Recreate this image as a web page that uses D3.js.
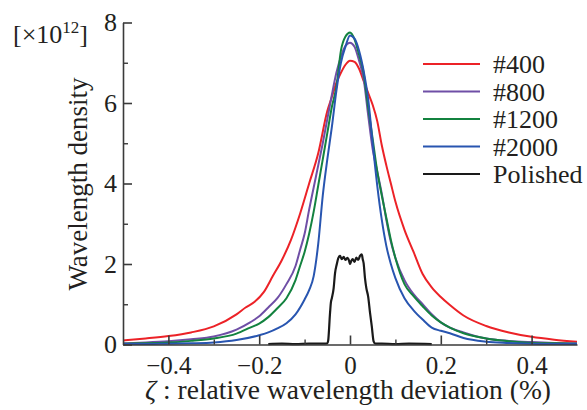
<!DOCTYPE html>
<html>
<head>
<meta charset="utf-8">
<script src="https://cdn.jsdelivr.net/npm/d3@7"></script>
<style>
  html, body { margin: 0; padding: 0; background: #fff; }
  svg { display: block; }
</style>
</head>
<body>
<svg id="chart" width="587" height="410"></svg>
<script>
// ---------------- data ----------------
const xTicks = [-0.4, -0.2, 0, 0.2, 0.4];
const xMinorTicks = [-0.3, -0.1, 0.1, 0.3];
const yTicks = [0, 2, 4, 6, 8];
const yMinorTicks = [1, 3, 5, 7];
const seriesNames = ["#400", "#800", "#1200", "#2000", "Polished"];
const seriesColors = ["#ec2227", "#6f4fa6", "#13823f", "#2855b0", "#1a1a1a"];

const x400 = [-0.5,-0.45,-0.4,-0.35,-0.3,-0.25,-0.23,-0.21,-0.19,-0.17,-0.15,-0.13,-0.11,-0.09,-0.07,-0.05,-0.04,-0.03,-0.02,-0.01,0,0.01,0.02,0.03,0.04,0.05,0.06,0.07,0.08,0.09,0.1,0.12,0.14,0.16,0.18,0.2,0.22,0.25,0.3,0.35,0.4,0.45,0.5];
const y400 = [0.1,0.15,0.21,0.3,0.45,0.75,0.92,1.06,1.3,1.7,2.1,2.6,3.25,4.0,4.75,5.8,6.15,6.5,6.75,6.95,7.05,7.02,6.85,6.55,6.25,5.95,5.55,4.95,4.45,4.0,3.55,2.85,2.3,1.75,1.42,1.18,0.98,0.72,0.46,0.3,0.19,0.12,0.07];

const x800 = [-0.5,-0.45,-0.4,-0.35,-0.3,-0.25,-0.22,-0.2,-0.18,-0.16,-0.14,-0.12,-0.11,-0.1,-0.09,-0.08,-0.07,-0.06,-0.05,-0.04,-0.03,-0.02,-0.01,0,0.01,0.02,0.03,0.04,0.05,0.06,0.07,0.08,0.09,0.1,0.12,0.14,0.16,0.18,0.2,0.22,0.25,0.3,0.35,0.4,0.45,0.5];
const y800 = [0.03,0.05,0.08,0.13,0.2,0.37,0.55,0.7,0.92,1.15,1.5,1.95,2.35,2.75,3.35,3.9,4.45,5.0,5.6,6.2,6.75,7.15,7.42,7.5,7.4,7.05,6.6,5.7,4.85,4.3,3.75,3.1,2.55,2.15,1.6,1.25,1.0,0.75,0.55,0.42,0.3,0.15,0.09,0.06,0.04,0.03];

const x1200 = [-0.5,-0.45,-0.4,-0.35,-0.3,-0.25,-0.22,-0.2,-0.18,-0.16,-0.14,-0.12,-0.11,-0.1,-0.09,-0.08,-0.07,-0.06,-0.05,-0.04,-0.03,-0.02,-0.01,0,0.01,0.02,0.03,0.04,0.05,0.06,0.07,0.08,0.09,0.1,0.12,0.14,0.16,0.18,0.2,0.22,0.25,0.3,0.35,0.4,0.45,0.5];
const y1200 = [0.02,0.03,0.05,0.09,0.15,0.27,0.42,0.52,0.68,0.9,1.15,1.6,1.95,2.3,2.75,3.3,3.95,4.6,5.25,5.9,6.4,7.3,7.65,7.75,7.58,7.2,6.75,5.9,5.1,4.3,3.7,3.15,2.6,2.15,1.5,1.2,0.95,0.72,0.55,0.42,0.28,0.15,0.08,0.04,0.03,0.02];

const x2000 = [-0.5,-0.45,-0.4,-0.35,-0.3,-0.25,-0.2,-0.18,-0.16,-0.14,-0.12,-0.1,-0.09,-0.08,-0.07,-0.06,-0.05,-0.04,-0.03,-0.02,-0.01,0,0.01,0.02,0.03,0.04,0.05,0.06,0.07,0.08,0.09,0.1,0.12,0.14,0.16,0.18,0.2,0.22,0.25,0.3,0.35,0.4,0.45,0.5];
const y2000 = [0.01,0.01,0.02,0.03,0.05,0.11,0.23,0.3,0.4,0.53,0.75,1.12,1.35,1.7,2.5,3.7,4.6,5.4,6.3,7.0,7.4,7.68,7.6,7.3,6.8,6.1,5.0,3.95,3.1,2.45,2.0,1.65,1.15,0.85,0.62,0.42,0.34,0.28,0.16,0.07,0.04,0.02,0.01,0.01];

const xPol = [-0.18,-0.15,-0.12,-0.09,-0.06,-0.05,-0.048,-0.044,-0.042,-0.04,-0.036,-0.033,-0.029,-0.026,-0.022,-0.018,-0.014,-0.01,-0.006,-0.002,0,0.003,0.006,0.01,0.014,0.018,0.022,0.026,0.028,0.03,0.033,0.036,0.04,0.044,0.048,0.052,0.056,0.07,0.1,0.13,0.18];
const yPol = [0.01,0.02,0.01,0.02,0.02,0.03,0.1,0.78,1.05,1.15,1.4,1.77,2.0,2.14,2.2,2.12,2.18,2.1,2.15,2.08,2.0,2.08,2.12,2.05,2.16,2.1,2.2,2.24,2.12,2.02,1.65,1.4,1.19,0.8,0.45,0.08,0.02,0.02,0.01,0.02,0.01];

const seriesX = [x400, x800, x1200, x2000, xPol];
const seriesY = [y400, y800, y1200, y2000, yPol];

// ---------------- chart ----------------
const FONT = "Liberation Serif";
const TXT = "#231f20";
const svg = d3.select("#chart");
const x = d3.scaleLinear().domain([-0.5, 0.5]).range([123, 577]);
const y = d3.scaleLinear().domain([0, 8]).range([344.5, 22.5]);
const axisColor = "#3a3a3a";

svg.append("defs").append("clipPath").attr("id", "plotclip")
  .append("rect").attr("x", x(-0.5)).attr("y", 0)
  .attr("width", x(0.5) - x(-0.5)).attr("height", y(0) + 2);

// curves
const line = d3.line().x(d => x(d[0])).y(d => y(d[1])).curve(d3.curveMonotoneX);
const gCurves = svg.append("g").attr("clip-path", "url(#plotclip)");
seriesNames.forEach((name, i) => {
  const pts = seriesX[i].map((v, j) => [v, seriesY[i][j]]);
  gCurves.append("path").datum(pts)
    .attr("d", line).attr("fill", "none")
    .attr("stroke", seriesColors[i]).attr("stroke-width", i === 4 ? 2.2 : 2)
    .attr("stroke-linejoin", "round");
});

// x axis
const gx = svg.append("g").attr("transform", `translate(0,${y(0)})`)
  .call(d3.axisBottom(x).tickValues(xTicks).tickSize(-9).tickSizeOuter(0).tickPadding(12)
    .tickFormat(d => d === 0 ? "0" : d3.format(".1f")(d)));
gx.attr("font-family", FONT).attr("font-size", 25);
gx.select(".domain").attr("stroke", axisColor).attr("stroke-width", 1.6);
gx.selectAll(".tick line").attr("stroke", axisColor).attr("stroke-width", 1.6);
gx.selectAll(".tick text").attr("fill", TXT);

const gxm = svg.append("g").attr("transform", `translate(0,${y(0)})`)
  .call(d3.axisBottom(x).tickValues(xMinorTicks).tickSize(-5).tickSizeOuter(0).tickFormat(""));
gxm.select(".domain").remove();
gxm.selectAll(".tick line").attr("stroke", axisColor).attr("stroke-width", 1.4);

// y axis
const gy = svg.append("g").attr("transform", `translate(${x(-0.5)},0)`)
  .call(d3.axisLeft(y).tickValues(yTicks).tickSize(-9).tickSizeOuter(0).tickPadding(6));
gy.attr("font-family", FONT).attr("font-size", 26);
gy.select(".domain").attr("stroke", axisColor).attr("stroke-width", 1.6);
gy.selectAll(".tick line").attr("stroke", axisColor).attr("stroke-width", 1.6);
gy.selectAll(".tick text").attr("fill", TXT);

const gym = svg.append("g").attr("transform", `translate(${x(-0.5)},0)`)
  .call(d3.axisLeft(y).tickValues(yMinorTicks).tickSize(-5).tickSizeOuter(0).tickFormat(""));
gym.select(".domain").remove();
gym.selectAll(".tick line").attr("stroke", axisColor).attr("stroke-width", 1.4);

// exponent label
const exp = svg.append("text").attr("x", 13).attr("y", 43).attr("font-size", 26)
  .attr("font-family", FONT).attr("fill", TXT);
exp.append("tspan").text("[×10");
exp.append("tspan").attr("font-size", 17).attr("dy", -10).text("12");
exp.append("tspan").attr("dy", 10).text("]");

// axis titles
svg.append("text").attr("transform", "translate(87,184) rotate(-90)")
  .attr("font-family", FONT).attr("fill", TXT)
  .attr("text-anchor", "middle").attr("font-size", 27).text("Wavelength density");

const xt = svg.append("text").attr("x", 348).attr("y", 399)
  .attr("font-family", FONT).attr("fill", TXT)
  .attr("text-anchor", "middle").attr("font-size", 27.5);
xt.append("tspan").attr("font-style", "italic").text("ζ");
xt.append("tspan").text(" : relative wavelength deviation (%)");

// legend
const legendY = d3.scaleLinear().domain([0, 4]).range([64, 174]);
seriesNames.forEach((name, i) => {
  const ly = legendY(i);
  svg.append("line").attr("x1", 423).attr("x2", 480).attr("y1", ly).attr("y2", ly)
    .attr("stroke", seriesColors[i]).attr("stroke-width", 2);
  svg.append("text").attr("x", 493).attr("y", ly + 9).attr("font-size", 26)
    .attr("font-family", FONT).attr("fill", TXT).text(name);
});
</script>
</body>
</html>
